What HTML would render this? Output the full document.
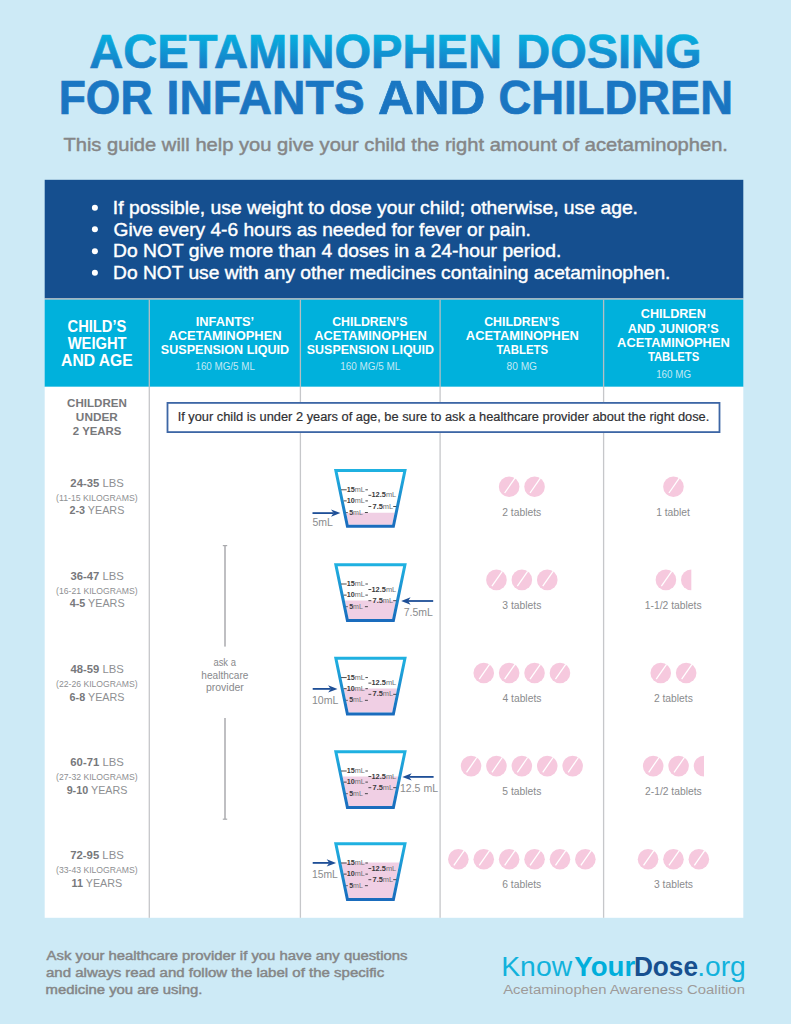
<!DOCTYPE html>
<html><head><meta charset="utf-8"><title>Acetaminophen Dosing</title>
<style>html,body{margin:0;padding:0;background:#cdeaf6;}svg{display:block;}text{font-family:"Liberation Sans",sans-serif;}</style>
</head><body>
<svg width="791" height="1024" viewBox="0 0 791 1024">
<defs>
<linearGradient id="tg1" gradientUnits="userSpaceOnUse" x1="0" y1="34" x2="0" y2="69">
<stop offset="0" stop-color="#06b2e0"/><stop offset="1" stop-color="#1a79c5"/></linearGradient>
<linearGradient id="tg2" gradientUnits="userSpaceOnUse" x1="0" y1="81" x2="0" y2="115">
<stop offset="0" stop-color="#1a77c3"/><stop offset="1" stop-color="#1a74c0"/></linearGradient>
<linearGradient id="cupg" gradientUnits="objectBoundingBox" x1="0" y1="0" x2="0" y2="1">
<stop offset="0" stop-color="#1fb1e1"/><stop offset="1" stop-color="#1a6cbd"/></linearGradient>
</defs>
<rect x="0" y="0" width="791" height="1024" fill="#cdeaf6"/>
<rect x="44.7" y="179.8" width="698.6" height="118.5" fill="#154f8f"/>
<rect x="44.7" y="298.3" width="698.6" height="1.4" fill="#a9b3b8"/>
<rect x="44.7" y="299.7" width="698.6" height="87.1" fill="#00b1dc"/>
<rect x="44.7" y="386.8" width="698.6" height="531.0" fill="#ffffff"/>
<rect x="148.65" y="299.7" width="1.3" height="87.1" fill="#b5bec2"/>
<rect x="148.65" y="386.8" width="1.3" height="531.0" fill="#c6c7ca"/>
<rect x="299.75" y="299.7" width="1.3" height="87.1" fill="#b5bec2"/>
<rect x="299.75" y="386.8" width="1.3" height="531.0" fill="#c6c7ca"/>
<rect x="439.45" y="299.7" width="1.3" height="87.1" fill="#b5bec2"/>
<rect x="439.45" y="386.8" width="1.3" height="531.0" fill="#c6c7ca"/>
<rect x="602.95" y="299.7" width="1.3" height="87.1" fill="#b5bec2"/>
<rect x="602.95" y="386.8" width="1.3" height="531.0" fill="#c6c7ca"/>
<circle cx="94.9" cy="207.8" r="3.0" fill="#fff"/>
<circle cx="94.9" cy="229.2" r="3.0" fill="#fff"/>
<circle cx="94.9" cy="251.2" r="3.0" fill="#fff"/>
<circle cx="94.9" cy="272.7" r="3.0" fill="#fff"/>
<rect x="167.5" y="402.9" width="552.0" height="29.2" fill="#fff" stroke="#3d66a5" stroke-width="1.8"/>
<rect x="224.1" y="545.5" width="1.8" height="101.1" fill="#b8b9bc"/>
<rect x="222.8" y="545.0" width="4.4" height="1.2" fill="#a9aaad"/>
<rect x="224.1" y="718.0" width="1.8" height="101.2" fill="#b8b9bc"/>
<rect x="222.8" y="818.6" width="4.4" height="1.2" fill="#a9aaad"/>
<polygon points="346.14,512.70 394.66,512.70 392.16,524.70 348.64,524.70" fill="#f0cfe4"/>
<polygon points="335.84,470.50 404.96,470.50 393.38,526.20 347.42,526.20" fill="none" stroke="url(#cupg)" stroke-width="3.0" stroke-linejoin="miter"/>
<text x="346.70" y="491.80" font-size="6.60" textLength="18.20" lengthAdjust="spacingAndGlyphs"><tspan font-weight="bold" fill="#3b3b3d">15</tspan><tspan font-weight="normal" fill="#6e6f72">mL</tspan></text>
<rect x="341.10" y="489.35" width="5.60" height="0.9" fill="#3b3b3d"/>
<rect x="365.40" y="489.35" width="2.50" height="0.9" fill="#3b3b3d"/>
<text x="371.50" y="497.30" font-size="6.60" textLength="24.70" lengthAdjust="spacingAndGlyphs"><tspan font-weight="bold" fill="#3b3b3d">12.5</tspan><tspan font-weight="normal" fill="#6e6f72">mL</tspan></text>
<rect x="368.40" y="494.85" width="2.90" height="0.9" fill="#3b3b3d"/>
<text x="346.70" y="502.90" font-size="6.60" textLength="18.20" lengthAdjust="spacingAndGlyphs"><tspan font-weight="bold" fill="#3b3b3d">10</tspan><tspan font-weight="normal" fill="#6e6f72">mL</tspan></text>
<rect x="343.60" y="500.45" width="3.10" height="0.9" fill="#3b3b3d"/>
<rect x="365.40" y="500.45" width="2.50" height="0.9" fill="#3b3b3d"/>
<text x="372.50" y="508.50" font-size="6.60" textLength="20.70" lengthAdjust="spacingAndGlyphs"><tspan font-weight="bold" fill="#3b3b3d">7.5</tspan><tspan font-weight="normal" fill="#6e6f72">mL</tspan></text>
<rect x="368.40" y="506.05" width="2.90" height="0.9" fill="#3b3b3d"/>
<rect x="393.20" y="506.05" width="3.00" height="0.9" fill="#3b3b3d"/>
<text x="349.20" y="514.50" font-size="6.60" textLength="13.70" lengthAdjust="spacingAndGlyphs"><tspan font-weight="bold" fill="#3b3b3d">5</tspan><tspan font-weight="normal" fill="#6e6f72">mL</tspan></text>
<rect x="346.20" y="512.05" width="1.50" height="0.9" fill="#3b3b3d"/>
<rect x="364.90" y="512.05" width="3.00" height="0.9" fill="#3b3b3d"/>
<rect x="312.50" y="512.20" width="21.10" height="1.8" fill="#1e4f97"/><polygon points="340.40,513.10 331.00,509.40 333.60,513.10 331.00,516.80" fill="#1e4f97"/>
<polygon points="344.83,600.60 395.97,600.60 392.16,618.90 348.64,618.90" fill="#f0cfe4"/>
<polygon points="335.84,564.70 404.96,564.70 393.38,620.40 347.42,620.40" fill="none" stroke="url(#cupg)" stroke-width="3.0" stroke-linejoin="miter"/>
<text x="346.70" y="586.00" font-size="6.60" textLength="18.20" lengthAdjust="spacingAndGlyphs"><tspan font-weight="bold" fill="#3b3b3d">15</tspan><tspan font-weight="normal" fill="#6e6f72">mL</tspan></text>
<rect x="341.10" y="583.55" width="5.60" height="0.9" fill="#3b3b3d"/>
<rect x="365.40" y="583.55" width="2.50" height="0.9" fill="#3b3b3d"/>
<text x="371.50" y="591.50" font-size="6.60" textLength="24.70" lengthAdjust="spacingAndGlyphs"><tspan font-weight="bold" fill="#3b3b3d">12.5</tspan><tspan font-weight="normal" fill="#6e6f72">mL</tspan></text>
<rect x="368.40" y="589.05" width="2.90" height="0.9" fill="#3b3b3d"/>
<text x="346.70" y="597.10" font-size="6.60" textLength="18.20" lengthAdjust="spacingAndGlyphs"><tspan font-weight="bold" fill="#3b3b3d">10</tspan><tspan font-weight="normal" fill="#6e6f72">mL</tspan></text>
<rect x="343.60" y="594.65" width="3.10" height="0.9" fill="#3b3b3d"/>
<rect x="365.40" y="594.65" width="2.50" height="0.9" fill="#3b3b3d"/>
<text x="372.50" y="602.70" font-size="6.60" textLength="20.70" lengthAdjust="spacingAndGlyphs"><tspan font-weight="bold" fill="#3b3b3d">7.5</tspan><tspan font-weight="normal" fill="#6e6f72">mL</tspan></text>
<rect x="368.40" y="600.25" width="2.90" height="0.9" fill="#3b3b3d"/>
<rect x="393.20" y="600.25" width="3.00" height="0.9" fill="#3b3b3d"/>
<text x="349.20" y="608.70" font-size="6.60" textLength="13.70" lengthAdjust="spacingAndGlyphs"><tspan font-weight="bold" fill="#3b3b3d">5</tspan><tspan font-weight="normal" fill="#6e6f72">mL</tspan></text>
<rect x="346.20" y="606.25" width="1.50" height="0.9" fill="#3b3b3d"/>
<rect x="364.90" y="606.25" width="3.00" height="0.9" fill="#3b3b3d"/>
<rect x="408.00" y="600.10" width="25.20" height="1.8" fill="#1e4f97"/><polygon points="401.20,601.00 410.60,597.30 408.00,601.00 410.60,604.70" fill="#1e4f97"/>
<polygon points="343.65,688.50 397.15,688.50 392.16,712.50 348.64,712.50" fill="#f0cfe4"/>
<polygon points="335.84,658.30 404.96,658.30 393.38,714.00 347.42,714.00" fill="none" stroke="url(#cupg)" stroke-width="3.0" stroke-linejoin="miter"/>
<text x="346.70" y="679.60" font-size="6.60" textLength="18.20" lengthAdjust="spacingAndGlyphs"><tspan font-weight="bold" fill="#3b3b3d">15</tspan><tspan font-weight="normal" fill="#6e6f72">mL</tspan></text>
<rect x="341.10" y="677.15" width="5.60" height="0.9" fill="#3b3b3d"/>
<rect x="365.40" y="677.15" width="2.50" height="0.9" fill="#3b3b3d"/>
<text x="371.50" y="685.10" font-size="6.60" textLength="24.70" lengthAdjust="spacingAndGlyphs"><tspan font-weight="bold" fill="#3b3b3d">12.5</tspan><tspan font-weight="normal" fill="#6e6f72">mL</tspan></text>
<rect x="368.40" y="682.65" width="2.90" height="0.9" fill="#3b3b3d"/>
<text x="346.70" y="690.70" font-size="6.60" textLength="18.20" lengthAdjust="spacingAndGlyphs"><tspan font-weight="bold" fill="#3b3b3d">10</tspan><tspan font-weight="normal" fill="#6e6f72">mL</tspan></text>
<rect x="343.60" y="688.25" width="3.10" height="0.9" fill="#3b3b3d"/>
<rect x="365.40" y="688.25" width="2.50" height="0.9" fill="#3b3b3d"/>
<text x="372.50" y="696.30" font-size="6.60" textLength="20.70" lengthAdjust="spacingAndGlyphs"><tspan font-weight="bold" fill="#3b3b3d">7.5</tspan><tspan font-weight="normal" fill="#6e6f72">mL</tspan></text>
<rect x="368.40" y="693.85" width="2.90" height="0.9" fill="#3b3b3d"/>
<rect x="393.20" y="693.85" width="3.00" height="0.9" fill="#3b3b3d"/>
<text x="349.20" y="702.30" font-size="6.60" textLength="13.70" lengthAdjust="spacingAndGlyphs"><tspan font-weight="bold" fill="#3b3b3d">5</tspan><tspan font-weight="normal" fill="#6e6f72">mL</tspan></text>
<rect x="346.20" y="699.85" width="1.50" height="0.9" fill="#3b3b3d"/>
<rect x="364.90" y="699.85" width="3.00" height="0.9" fill="#3b3b3d"/>
<rect x="312.70" y="688.00" width="18.00" height="1.8" fill="#1e4f97"/><polygon points="337.50,688.90 328.10,685.20 330.70,688.90 328.10,692.60" fill="#1e4f97"/>
<polygon points="342.53,776.50 398.27,776.50 392.16,805.90 348.64,805.90" fill="#f0cfe4"/>
<polygon points="335.84,751.70 404.96,751.70 393.38,807.40 347.42,807.40" fill="none" stroke="url(#cupg)" stroke-width="3.0" stroke-linejoin="miter"/>
<text x="346.70" y="773.00" font-size="6.60" textLength="18.20" lengthAdjust="spacingAndGlyphs"><tspan font-weight="bold" fill="#3b3b3d">15</tspan><tspan font-weight="normal" fill="#6e6f72">mL</tspan></text>
<rect x="341.10" y="770.55" width="5.60" height="0.9" fill="#3b3b3d"/>
<rect x="365.40" y="770.55" width="2.50" height="0.9" fill="#3b3b3d"/>
<text x="371.50" y="778.50" font-size="6.60" textLength="24.70" lengthAdjust="spacingAndGlyphs"><tspan font-weight="bold" fill="#3b3b3d">12.5</tspan><tspan font-weight="normal" fill="#6e6f72">mL</tspan></text>
<rect x="368.40" y="776.05" width="2.90" height="0.9" fill="#3b3b3d"/>
<text x="346.70" y="784.10" font-size="6.60" textLength="18.20" lengthAdjust="spacingAndGlyphs"><tspan font-weight="bold" fill="#3b3b3d">10</tspan><tspan font-weight="normal" fill="#6e6f72">mL</tspan></text>
<rect x="343.60" y="781.65" width="3.10" height="0.9" fill="#3b3b3d"/>
<rect x="365.40" y="781.65" width="2.50" height="0.9" fill="#3b3b3d"/>
<text x="372.50" y="789.70" font-size="6.60" textLength="20.70" lengthAdjust="spacingAndGlyphs"><tspan font-weight="bold" fill="#3b3b3d">7.5</tspan><tspan font-weight="normal" fill="#6e6f72">mL</tspan></text>
<rect x="368.40" y="787.25" width="2.90" height="0.9" fill="#3b3b3d"/>
<rect x="393.20" y="787.25" width="3.00" height="0.9" fill="#3b3b3d"/>
<text x="349.20" y="795.70" font-size="6.60" textLength="13.70" lengthAdjust="spacingAndGlyphs"><tspan font-weight="bold" fill="#3b3b3d">5</tspan><tspan font-weight="normal" fill="#6e6f72">mL</tspan></text>
<rect x="346.20" y="793.25" width="1.50" height="0.9" fill="#3b3b3d"/>
<rect x="364.90" y="793.25" width="3.00" height="0.9" fill="#3b3b3d"/>
<rect x="409.10" y="776.00" width="24.50" height="1.8" fill="#1e4f97"/><polygon points="402.30,776.90 411.70,773.20 409.10,776.90 411.70,780.60" fill="#1e4f97"/>
<polygon points="341.28,862.50 399.52,862.50 392.16,897.90 348.64,897.90" fill="#f0cfe4"/>
<polygon points="335.84,843.70 404.96,843.70 393.38,899.40 347.42,899.40" fill="none" stroke="url(#cupg)" stroke-width="3.0" stroke-linejoin="miter"/>
<text x="346.70" y="865.00" font-size="6.60" textLength="18.20" lengthAdjust="spacingAndGlyphs"><tspan font-weight="bold" fill="#3b3b3d">15</tspan><tspan font-weight="normal" fill="#6e6f72">mL</tspan></text>
<rect x="341.10" y="862.55" width="5.60" height="0.9" fill="#3b3b3d"/>
<rect x="365.40" y="862.55" width="2.50" height="0.9" fill="#3b3b3d"/>
<text x="371.50" y="870.50" font-size="6.60" textLength="24.70" lengthAdjust="spacingAndGlyphs"><tspan font-weight="bold" fill="#3b3b3d">12.5</tspan><tspan font-weight="normal" fill="#6e6f72">mL</tspan></text>
<rect x="368.40" y="868.05" width="2.90" height="0.9" fill="#3b3b3d"/>
<text x="346.70" y="876.10" font-size="6.60" textLength="18.20" lengthAdjust="spacingAndGlyphs"><tspan font-weight="bold" fill="#3b3b3d">10</tspan><tspan font-weight="normal" fill="#6e6f72">mL</tspan></text>
<rect x="343.60" y="873.65" width="3.10" height="0.9" fill="#3b3b3d"/>
<rect x="365.40" y="873.65" width="2.50" height="0.9" fill="#3b3b3d"/>
<text x="372.50" y="881.70" font-size="6.60" textLength="20.70" lengthAdjust="spacingAndGlyphs"><tspan font-weight="bold" fill="#3b3b3d">7.5</tspan><tspan font-weight="normal" fill="#6e6f72">mL</tspan></text>
<rect x="368.40" y="879.25" width="2.90" height="0.9" fill="#3b3b3d"/>
<rect x="393.20" y="879.25" width="3.00" height="0.9" fill="#3b3b3d"/>
<text x="349.20" y="887.70" font-size="6.60" textLength="13.70" lengthAdjust="spacingAndGlyphs"><tspan font-weight="bold" fill="#3b3b3d">5</tspan><tspan font-weight="normal" fill="#6e6f72">mL</tspan></text>
<rect x="346.20" y="885.25" width="1.50" height="0.9" fill="#3b3b3d"/>
<rect x="364.90" y="885.25" width="3.00" height="0.9" fill="#3b3b3d"/>
<rect x="312.70" y="862.00" width="16.60" height="1.8" fill="#1e4f97"/><polygon points="336.10,862.90 326.70,859.20 329.30,862.90 326.70,866.60" fill="#1e4f97"/>
<circle cx="509.15" cy="486.80" r="10.30" fill="#f6c9de"/><line x1="504.65" y1="493.00" x2="514.95" y2="478.20" stroke="#fff" stroke-width="1.3"/><circle cx="534.55" cy="486.80" r="10.30" fill="#f6c9de"/><line x1="530.05" y1="493.00" x2="540.35" y2="478.20" stroke="#fff" stroke-width="1.3"/>
<circle cx="673.45" cy="486.80" r="10.30" fill="#f6c9de"/><line x1="668.95" y1="493.00" x2="679.25" y2="478.20" stroke="#fff" stroke-width="1.3"/>
<circle cx="496.45" cy="579.90" r="10.30" fill="#f6c9de"/><line x1="491.95" y1="586.10" x2="502.25" y2="571.30" stroke="#fff" stroke-width="1.3"/><circle cx="521.85" cy="579.90" r="10.30" fill="#f6c9de"/><line x1="517.35" y1="586.10" x2="527.65" y2="571.30" stroke="#fff" stroke-width="1.3"/><circle cx="547.25" cy="579.90" r="10.30" fill="#f6c9de"/><line x1="542.75" y1="586.10" x2="553.05" y2="571.30" stroke="#fff" stroke-width="1.3"/>
<circle cx="665.90" cy="579.90" r="10.30" fill="#f6c9de"/><line x1="661.40" y1="586.10" x2="671.70" y2="571.30" stroke="#fff" stroke-width="1.3"/><path d="M691.30,569.60 A10.30,10.30 0 0 0 691.30,590.20 Z" fill="#f6c9de"/>
<circle cx="483.75" cy="673.00" r="10.30" fill="#f6c9de"/><line x1="479.25" y1="679.20" x2="489.55" y2="664.40" stroke="#fff" stroke-width="1.3"/><circle cx="509.15" cy="673.00" r="10.30" fill="#f6c9de"/><line x1="504.65" y1="679.20" x2="514.95" y2="664.40" stroke="#fff" stroke-width="1.3"/><circle cx="534.55" cy="673.00" r="10.30" fill="#f6c9de"/><line x1="530.05" y1="679.20" x2="540.35" y2="664.40" stroke="#fff" stroke-width="1.3"/><circle cx="559.95" cy="673.00" r="10.30" fill="#f6c9de"/><line x1="555.45" y1="679.20" x2="565.75" y2="664.40" stroke="#fff" stroke-width="1.3"/>
<circle cx="660.75" cy="673.00" r="10.30" fill="#f6c9de"/><line x1="656.25" y1="679.20" x2="666.55" y2="664.40" stroke="#fff" stroke-width="1.3"/><circle cx="686.15" cy="673.00" r="10.30" fill="#f6c9de"/><line x1="681.65" y1="679.20" x2="691.95" y2="664.40" stroke="#fff" stroke-width="1.3"/>
<circle cx="471.05" cy="766.10" r="10.30" fill="#f6c9de"/><line x1="466.55" y1="772.30" x2="476.85" y2="757.50" stroke="#fff" stroke-width="1.3"/><circle cx="496.45" cy="766.10" r="10.30" fill="#f6c9de"/><line x1="491.95" y1="772.30" x2="502.25" y2="757.50" stroke="#fff" stroke-width="1.3"/><circle cx="521.85" cy="766.10" r="10.30" fill="#f6c9de"/><line x1="517.35" y1="772.30" x2="527.65" y2="757.50" stroke="#fff" stroke-width="1.3"/><circle cx="547.25" cy="766.10" r="10.30" fill="#f6c9de"/><line x1="542.75" y1="772.30" x2="553.05" y2="757.50" stroke="#fff" stroke-width="1.3"/><circle cx="572.65" cy="766.10" r="10.30" fill="#f6c9de"/><line x1="568.15" y1="772.30" x2="578.45" y2="757.50" stroke="#fff" stroke-width="1.3"/>
<circle cx="653.20" cy="766.10" r="10.30" fill="#f6c9de"/><line x1="648.70" y1="772.30" x2="659.00" y2="757.50" stroke="#fff" stroke-width="1.3"/><circle cx="678.60" cy="766.10" r="10.30" fill="#f6c9de"/><line x1="674.10" y1="772.30" x2="684.40" y2="757.50" stroke="#fff" stroke-width="1.3"/><path d="M704.00,755.80 A10.30,10.30 0 0 0 704.00,776.40 Z" fill="#f6c9de"/>
<circle cx="458.35" cy="859.20" r="10.30" fill="#f6c9de"/><line x1="453.85" y1="865.40" x2="464.15" y2="850.60" stroke="#fff" stroke-width="1.3"/><circle cx="483.75" cy="859.20" r="10.30" fill="#f6c9de"/><line x1="479.25" y1="865.40" x2="489.55" y2="850.60" stroke="#fff" stroke-width="1.3"/><circle cx="509.15" cy="859.20" r="10.30" fill="#f6c9de"/><line x1="504.65" y1="865.40" x2="514.95" y2="850.60" stroke="#fff" stroke-width="1.3"/><circle cx="534.55" cy="859.20" r="10.30" fill="#f6c9de"/><line x1="530.05" y1="865.40" x2="540.35" y2="850.60" stroke="#fff" stroke-width="1.3"/><circle cx="559.95" cy="859.20" r="10.30" fill="#f6c9de"/><line x1="555.45" y1="865.40" x2="565.75" y2="850.60" stroke="#fff" stroke-width="1.3"/><circle cx="585.35" cy="859.20" r="10.30" fill="#f6c9de"/><line x1="580.85" y1="865.40" x2="591.15" y2="850.60" stroke="#fff" stroke-width="1.3"/>
<circle cx="648.05" cy="859.20" r="10.30" fill="#f6c9de"/><line x1="643.55" y1="865.40" x2="653.85" y2="850.60" stroke="#fff" stroke-width="1.3"/><circle cx="673.45" cy="859.20" r="10.30" fill="#f6c9de"/><line x1="668.95" y1="865.40" x2="679.25" y2="850.60" stroke="#fff" stroke-width="1.3"/><circle cx="698.85" cy="859.20" r="10.30" fill="#f6c9de"/><line x1="694.35" y1="865.40" x2="704.65" y2="850.60" stroke="#fff" stroke-width="1.3"/>
<text x="89.31" y="67.65" font-size="47.68" textLength="412.71" lengthAdjust="spacingAndGlyphs"><tspan font-weight="bold" fill="url(#tg1)" stroke="url(#tg1)" stroke-width="0.70">ACETAMINOPHEN</tspan></text>
<text x="516.30" y="67.65" font-size="47.68" textLength="185.27" lengthAdjust="spacingAndGlyphs"><tspan font-weight="bold" fill="url(#tg1)" stroke="url(#tg1)" stroke-width="0.70">DOSING</tspan></text>
<text x="58.66" y="114.15" font-size="47.38" textLength="93.85" lengthAdjust="spacingAndGlyphs"><tspan font-weight="bold" fill="url(#tg2)" stroke="url(#tg2)" stroke-width="0.70">FOR</tspan></text>
<text x="166.54" y="114.15" font-size="47.38" textLength="198.23" lengthAdjust="spacingAndGlyphs"><tspan font-weight="bold" fill="url(#tg2)" stroke="url(#tg2)" stroke-width="0.70">INFANTS</tspan></text>
<text x="377.96" y="114.15" font-size="47.38" textLength="107.33" lengthAdjust="spacingAndGlyphs"><tspan font-weight="bold" fill="url(#tg2)" stroke="url(#tg2)" stroke-width="0.70">AND</tspan></text>
<text x="498.43" y="114.15" font-size="47.38" textLength="234.67" lengthAdjust="spacingAndGlyphs"><tspan font-weight="bold" fill="url(#tg2)" stroke="url(#tg2)" stroke-width="0.70">CHILDREN</tspan></text>
<text x="63.40" y="150.80" font-size="18.60" textLength="664.57" lengthAdjust="spacingAndGlyphs"><tspan font-weight="normal" fill="#858687" stroke="#858687" stroke-width="0.45">This guide will help you give your child the right amount of acetaminophen.</tspan></text>
<text x="112.86" y="214.00" font-size="17.80" textLength="525.14" lengthAdjust="spacingAndGlyphs"><tspan font-weight="normal" fill="#ffffff" stroke="#ffffff" stroke-width="0.40">If possible, use weight to dose your child; otherwise, use age.</tspan></text>
<text x="113.64" y="235.50" font-size="17.80" textLength="417.24" lengthAdjust="spacingAndGlyphs"><tspan font-weight="normal" fill="#ffffff" stroke="#ffffff" stroke-width="0.40">Give every 4-6 hours as needed for fever or pain.</tspan></text>
<text x="113.06" y="257.00" font-size="17.80" textLength="448.23" lengthAdjust="spacingAndGlyphs"><tspan font-weight="normal" fill="#ffffff" stroke="#ffffff" stroke-width="0.40">Do NOT give more than 4 doses in a 24-hour period.</tspan></text>
<text x="113.07" y="278.80" font-size="17.80" textLength="557.32" lengthAdjust="spacingAndGlyphs"><tspan font-weight="normal" fill="#ffffff" stroke="#ffffff" stroke-width="0.40">Do NOT use with any other medicines containing acetaminophen.</tspan></text>
<text x="67.51" y="331.80" font-size="15.99" textLength="58.93" lengthAdjust="spacingAndGlyphs"><tspan font-weight="bold" fill="#ffffff">CHILD’S</tspan></text>
<text x="67.70" y="348.60" font-size="15.99" textLength="58.89" lengthAdjust="spacingAndGlyphs"><tspan font-weight="bold" fill="#ffffff">WEIGHT</tspan></text>
<text x="61.09" y="365.70" font-size="15.99" textLength="71.69" lengthAdjust="spacingAndGlyphs"><tspan font-weight="bold" fill="#ffffff">AND AGE</tspan></text>
<text x="195.67" y="325.50" font-size="12.50" textLength="58.51" lengthAdjust="spacingAndGlyphs"><tspan font-weight="bold" fill="#ffffff">INFANTS’</tspan></text>
<text x="168.44" y="339.60" font-size="12.50" textLength="113.23" lengthAdjust="spacingAndGlyphs"><tspan font-weight="bold" fill="#ffffff">ACETAMINOPHEN</tspan></text>
<text x="160.89" y="353.80" font-size="12.50" textLength="128.28" lengthAdjust="spacingAndGlyphs"><tspan font-weight="bold" fill="#ffffff">SUSPENSION LIQUID</tspan></text>
<text x="195.46" y="369.70" font-size="10.17" textLength="59.44" lengthAdjust="spacingAndGlyphs"><tspan font-weight="normal" fill="#c4e9f5">160 MG/5 ML</tspan></text>
<text x="332.21" y="325.50" font-size="12.50" textLength="75.25" lengthAdjust="spacingAndGlyphs"><tspan font-weight="bold" fill="#ffffff">CHILDREN’S</tspan></text>
<text x="314.24" y="339.60" font-size="12.50" textLength="112.62" lengthAdjust="spacingAndGlyphs"><tspan font-weight="bold" fill="#ffffff">ACETAMINOPHEN</tspan></text>
<text x="306.79" y="353.80" font-size="12.50" textLength="127.27" lengthAdjust="spacingAndGlyphs"><tspan font-weight="bold" fill="#ffffff">SUSPENSION LIQUID</tspan></text>
<text x="340.26" y="369.70" font-size="10.17" textLength="60.05" lengthAdjust="spacingAndGlyphs"><tspan font-weight="normal" fill="#c4e9f5">160 MG/5 ML</tspan></text>
<text x="484.21" y="325.60" font-size="12.50" textLength="75.25" lengthAdjust="spacingAndGlyphs"><tspan font-weight="bold" fill="#ffffff">CHILDREN’S</tspan></text>
<text x="465.84" y="339.60" font-size="12.50" textLength="113.02" lengthAdjust="spacingAndGlyphs"><tspan font-weight="bold" fill="#ffffff">ACETAMINOPHEN</tspan></text>
<text x="496.39" y="353.70" font-size="12.50" textLength="51.74" lengthAdjust="spacingAndGlyphs"><tspan font-weight="bold" fill="#ffffff">TABLETS</tspan></text>
<text x="506.49" y="370.20" font-size="10.17" textLength="30.55" lengthAdjust="spacingAndGlyphs"><tspan font-weight="normal" fill="#c4e9f5">80 MG</tspan></text>
<text x="640.80" y="318.20" font-size="12.50" textLength="65.05" lengthAdjust="spacingAndGlyphs"><tspan font-weight="bold" fill="#ffffff">CHILDREN</tspan></text>
<text x="627.75" y="332.50" font-size="12.50" textLength="91.02" lengthAdjust="spacingAndGlyphs"><tspan font-weight="bold" fill="#ffffff">AND JUNIOR’S</tspan></text>
<text x="617.14" y="346.60" font-size="12.50" textLength="112.62" lengthAdjust="spacingAndGlyphs"><tspan font-weight="bold" fill="#ffffff">ACETAMINOPHEN</tspan></text>
<text x="647.89" y="360.70" font-size="12.50" textLength="51.33" lengthAdjust="spacingAndGlyphs"><tspan font-weight="bold" fill="#ffffff">TABLETS</tspan></text>
<text x="656.17" y="377.50" font-size="10.17" textLength="34.85" lengthAdjust="spacingAndGlyphs"><tspan font-weight="normal" fill="#c4e9f5">160 MG</tspan></text>
<text x="67.04" y="407.10" font-size="11.63" textLength="59.84" lengthAdjust="spacingAndGlyphs"><tspan font-weight="bold" fill="#77787b">CHILDREN</tspan></text>
<text x="75.89" y="421.30" font-size="11.63" textLength="41.91" lengthAdjust="spacingAndGlyphs"><tspan font-weight="bold" fill="#77787b">UNDER</tspan></text>
<text x="72.86" y="434.90" font-size="11.63" textLength="48.56" lengthAdjust="spacingAndGlyphs"><tspan font-weight="bold" fill="#77787b">2 YEARS</tspan></text>
<text x="70.36" y="486.50" font-size="11.48" textLength="53.41" lengthAdjust="spacingAndGlyphs"><tspan font-weight="bold" fill="#77787b">24-35</tspan><tspan font-weight="normal" fill="#8e8f92"> LBS</tspan></text>
<text x="56.08" y="501.00" font-size="9.30" textLength="81.53" lengthAdjust="spacingAndGlyphs"><tspan font-weight="normal" fill="#8e8f92">(11-15 KILOGRAMS)</tspan></text>
<text x="69.48" y="514.40" font-size="11.48" textLength="54.87" lengthAdjust="spacingAndGlyphs"><tspan font-weight="bold" fill="#77787b">2-3</tspan><tspan font-weight="normal" fill="#8e8f92"> YEARS</tspan></text>
<text x="70.47" y="579.55" font-size="11.48" textLength="53.30" lengthAdjust="spacingAndGlyphs"><tspan font-weight="bold" fill="#77787b">36-47</tspan><tspan font-weight="normal" fill="#8e8f92"> LBS</tspan></text>
<text x="56.08" y="594.05" font-size="9.30" textLength="81.52" lengthAdjust="spacingAndGlyphs"><tspan font-weight="normal" fill="#8e8f92">(16-21 KILOGRAMS)</tspan></text>
<text x="69.71" y="607.45" font-size="11.48" textLength="54.87" lengthAdjust="spacingAndGlyphs"><tspan font-weight="bold" fill="#77787b">4-5</tspan><tspan font-weight="normal" fill="#8e8f92"> YEARS</tspan></text>
<text x="70.53" y="672.60" font-size="11.48" textLength="53.24" lengthAdjust="spacingAndGlyphs"><tspan font-weight="bold" fill="#77787b">48-59</tspan><tspan font-weight="normal" fill="#8e8f92"> LBS</tspan></text>
<text x="56.08" y="687.10" font-size="9.30" textLength="81.52" lengthAdjust="spacingAndGlyphs"><tspan font-weight="normal" fill="#8e8f92">(22-26 KILOGRAMS)</tspan></text>
<text x="69.60" y="700.50" font-size="11.48" textLength="54.87" lengthAdjust="spacingAndGlyphs"><tspan font-weight="bold" fill="#77787b">6-8</tspan><tspan font-weight="normal" fill="#8e8f92"> YEARS</tspan></text>
<text x="70.30" y="765.65" font-size="11.48" textLength="53.47" lengthAdjust="spacingAndGlyphs"><tspan font-weight="bold" fill="#77787b">60-71</tspan><tspan font-weight="normal" fill="#8e8f92"> LBS</tspan></text>
<text x="56.08" y="780.15" font-size="9.30" textLength="81.52" lengthAdjust="spacingAndGlyphs"><tspan font-weight="normal" fill="#8e8f92">(27-32 KILOGRAMS)</tspan></text>
<text x="66.64" y="793.55" font-size="11.48" textLength="60.84" lengthAdjust="spacingAndGlyphs"><tspan font-weight="bold" fill="#77787b">9-10</tspan><tspan font-weight="normal" fill="#8e8f92"> YEARS</tspan></text>
<text x="70.25" y="858.70" font-size="11.48" textLength="53.53" lengthAdjust="spacingAndGlyphs"><tspan font-weight="bold" fill="#77787b">72-95</tspan><tspan font-weight="normal" fill="#8e8f92"> LBS</tspan></text>
<text x="56.08" y="873.20" font-size="9.30" textLength="81.52" lengthAdjust="spacingAndGlyphs"><tspan font-weight="normal" fill="#8e8f92">(33-43 KILOGRAMS)</tspan></text>
<text x="71.55" y="886.60" font-size="11.48" textLength="50.71" lengthAdjust="spacingAndGlyphs"><tspan font-weight="bold" fill="#77787b">11</tspan><tspan font-weight="normal" fill="#8e8f92"> YEARS</tspan></text>
<text x="177.65" y="420.80" font-size="13.08" textLength="531.68" lengthAdjust="spacingAndGlyphs"><tspan font-weight="normal" fill="#2f3033" stroke="#2f3033" stroke-width="0.20">If your child is under 2 years of age, be sure to ask a healthcare provider about the right dose.</tspan></text>
<text x="213.42" y="666.40" font-size="10.00" textLength="22.54" lengthAdjust="spacingAndGlyphs"><tspan font-weight="normal" fill="#88898c">ask a</tspan></text>
<text x="201.34" y="678.90" font-size="10.00" textLength="47.07" lengthAdjust="spacingAndGlyphs"><tspan font-weight="normal" fill="#88898c">healthcare</tspan></text>
<text x="205.97" y="690.90" font-size="10.00" textLength="37.87" lengthAdjust="spacingAndGlyphs"><tspan font-weight="normal" fill="#88898c">provider</tspan></text>
<text x="312.38" y="526.40" font-size="10.90" textLength="20.45" lengthAdjust="spacingAndGlyphs"><tspan font-weight="normal" fill="#8a8b8d">5mL</tspan></text>
<text x="403.78" y="615.80" font-size="10.90" textLength="29.15" lengthAdjust="spacingAndGlyphs"><tspan font-weight="normal" fill="#8a8b8d">7.5mL</tspan></text>
<text x="311.91" y="704.10" font-size="10.90" textLength="26.42" lengthAdjust="spacingAndGlyphs"><tspan font-weight="normal" fill="#8a8b8d">10mL</tspan></text>
<text x="400.01" y="791.70" font-size="10.90" textLength="38.02" lengthAdjust="spacingAndGlyphs"><tspan font-weight="normal" fill="#8a8b8d">12.5 mL</tspan></text>
<text x="311.92" y="878.00" font-size="10.90" textLength="25.90" lengthAdjust="spacingAndGlyphs"><tspan font-weight="normal" fill="#8a8b8d">15mL</tspan></text>
<text x="502.28" y="516.00" font-size="10.61" textLength="38.98" lengthAdjust="spacingAndGlyphs"><tspan font-weight="normal" fill="#8a8b8d">2 tablets</tspan></text>
<text x="656.17" y="516.00" font-size="10.61" textLength="33.82" lengthAdjust="spacingAndGlyphs"><tspan font-weight="normal" fill="#8a8b8d">1 tablet</tspan></text>
<text x="502.36" y="609.10" font-size="10.61" textLength="38.98" lengthAdjust="spacingAndGlyphs"><tspan font-weight="normal" fill="#8a8b8d">3 tablets</tspan></text>
<text x="644.87" y="609.10" font-size="10.61" textLength="56.74" lengthAdjust="spacingAndGlyphs"><tspan font-weight="normal" fill="#8a8b8d">1-1/2 tablets</tspan></text>
<text x="502.44" y="702.20" font-size="10.61" textLength="38.98" lengthAdjust="spacingAndGlyphs"><tspan font-weight="normal" fill="#8a8b8d">4 tablets</tspan></text>
<text x="653.88" y="702.20" font-size="10.61" textLength="38.98" lengthAdjust="spacingAndGlyphs"><tspan font-weight="normal" fill="#8a8b8d">2 tablets</tspan></text>
<text x="502.34" y="795.30" font-size="10.61" textLength="38.98" lengthAdjust="spacingAndGlyphs"><tspan font-weight="normal" fill="#8a8b8d">5 tablets</tspan></text>
<text x="645.00" y="795.30" font-size="10.61" textLength="56.74" lengthAdjust="spacingAndGlyphs"><tspan font-weight="normal" fill="#8a8b8d">2-1/2 tablets</tspan></text>
<text x="502.28" y="888.40" font-size="10.61" textLength="38.98" lengthAdjust="spacingAndGlyphs"><tspan font-weight="normal" fill="#8a8b8d">6 tablets</tspan></text>
<text x="653.96" y="888.40" font-size="10.61" textLength="38.98" lengthAdjust="spacingAndGlyphs"><tspan font-weight="normal" fill="#8a8b8d">3 tablets</tspan></text>
<text x="46.60" y="960.00" font-size="13.10" textLength="360.92" lengthAdjust="spacingAndGlyphs"><tspan font-weight="normal" fill="#858687" stroke="#858687" stroke-width="0.45">Ask your healthcare provider if you have any questions</tspan></text>
<text x="46.00" y="977.30" font-size="13.10" textLength="338.18" lengthAdjust="spacingAndGlyphs"><tspan font-weight="normal" fill="#858687" stroke="#858687" stroke-width="0.45">and always read and follow the label of the specific</tspan></text>
<text x="45.63" y="994.00" font-size="13.10" textLength="156.87" lengthAdjust="spacingAndGlyphs"><tspan font-weight="normal" fill="#858687" stroke="#858687" stroke-width="0.45">medicine you are using.</tspan></text>
<text x="501.23" y="975.90" font-size="28.20" textLength="70.89" lengthAdjust="spacingAndGlyphs"><tspan font-weight="normal" fill="#12b2dc">Know</tspan></text>
<text x="574.29" y="975.90" font-size="28.20" textLength="60.91" lengthAdjust="spacingAndGlyphs"><tspan font-weight="bold" fill="#00aedb">Your</tspan></text>
<text x="633.90" y="975.90" font-size="28.20" textLength="64.12" lengthAdjust="spacingAndGlyphs"><tspan font-weight="bold" fill="#17508f">Dose</tspan></text>
<text x="697.16" y="975.90" font-size="28.20" textLength="48.56" lengthAdjust="spacingAndGlyphs"><tspan font-weight="normal" fill="#12b2dc">.org</tspan></text>
<text x="503.20" y="993.50" font-size="13.08" textLength="241.71" lengthAdjust="spacingAndGlyphs"><tspan font-weight="normal" fill="#9d9a99">Acetaminophen Awareness Coalition</tspan></text>
</svg>
</body></html>
